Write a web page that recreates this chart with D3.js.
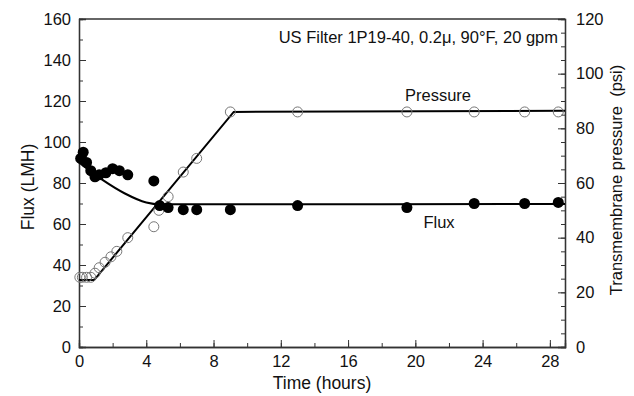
<!DOCTYPE html>
<html>
<head>
<meta charset="utf-8">
<script src="https://cdnjs.cloudflare.com/ajax/libs/d3/7.8.5/d3.min.js"></script>
<style>
  body { margin: 0; background: #fff; }
  text { font-family: "Liberation Sans", Arial, sans-serif; fill: #111; }
</style>
</head>
<body>
<script>
// flux measurements (filled dots), time in hours
var fluxTime = [0.1, 0.25, 0.45, 0.7, 0.95, 1.2, 1.6, 2.0, 2.4, 2.9, 4.45, 4.8, 5.3, 6.2, 7.0, 9.0, 13.0, 19.5, 23.5, 26.5, 28.5];
var fluxVal  = [92, 95, 90, 86, 83, 84, 85, 87, 86, 84, 81, 69, 68, 67, 67, 67, 69, 68, 70, 70, 70.5];

// pressure measurements (open circles), psi on right axis
var presTime = [0.05, 0.2, 0.45, 0.7, 0.95, 1.2, 1.55, 1.9, 2.25, 2.9, 4.45, 4.75, 5.3, 6.2, 7.0, 9.0, 13.0, 19.5, 23.5, 26.5, 28.5];
var presVal  = [25.5, 25.5, 25.5, 25.5, 27, 29, 31, 33, 35, 40, 44, 50, 55, 64, 69, 86, 86, 86, 86, 86, 86];

// trend lines
var fluxFitTime = [0, 1.4, 2.7, 4.0, 4.8, 28.9];
var fluxFitVal  = [90, 81.5, 75, 70.5, 69.6, 69.8];
var presFitTime = [0, 0.9, 9.2, 28.9];
var presFitVal  = [24.5, 24.5, 86, 86.4];

var xTicks = [0, 4, 8, 12, 16, 20, 24, 28];
var leftTicks = [0, 20, 40, 60, 80, 100, 120, 140, 160];
var rightTicks = [0, 20, 40, 60, 80, 100, 120];

var W = 634, H = 396;
var margin = {top: 19, right: 69, bottom: 49, left: 79},
    w = W - margin.left - margin.right,
    h = H - margin.top - margin.bottom;

var svg = d3.select('body').append('svg')
    .attr('width', W)
    .attr('height', H);

var g = svg.append('g')
    .attr('transform', 'translate(' + margin.left + ',' + margin.top + ')');

var xScale = d3.scaleLinear().domain([0, 28.9]).range([0, w]);
var yL = d3.scaleLinear().domain([0, 160]).range([h, 0]);
var yR = d3.scaleLinear().domain([0, 120]).range([h, 0]);

var axisColor = '#333';

// minor ticks first, then major ticks with labels
g.append('g')
  .attr('transform', 'translate(0,' + h + ')')
  .call(d3.axisBottom(xScale).tickValues(d3.range(0, 29, 2)).tickSize(-4).tickFormat(''));
g.append('g')
  .attr('class', 'xaxis')
  .attr('transform', 'translate(0,' + h + ')')
  .call(d3.axisBottom(xScale).tickValues(xTicks).tickSize(-7).tickPadding(8));

g.append('g')
  .call(d3.axisLeft(yL).tickValues(d3.range(0, 161, 10)).tickSize(-4).tickFormat(''));
g.append('g')
  .attr('class', 'laxis')
  .call(d3.axisLeft(yL).tickValues(leftTicks).tickSize(-7).tickPadding(8));

g.append('g')
  .attr('transform', 'translate(' + w + ',0)')
  .call(d3.axisRight(yR).tickValues(d3.range(0, 121, 5)).tickSize(-4).tickFormat(''));
g.append('g')
  .attr('class', 'raxis')
  .attr('transform', 'translate(' + w + ',0)')
  .call(d3.axisRight(yR).tickValues(rightTicks).tickSize(-7).tickPadding(11));

g.selectAll('.domain').attr('stroke', axisColor).attr('stroke-width', 1.3);
g.selectAll('.tick line').attr('stroke', axisColor);
g.selectAll('.tick text')
  .attr('font-size', '16.5px')
  .attr('font-family', '"Liberation Sans", Arial, sans-serif')
  .attr('fill', '#111');

// top frame line
g.append('line')
  .attr('x1', 0).attr('x2', w)
  .attr('y1', 0).attr('y2', 0)
  .attr('stroke', axisColor)
  .attr('stroke-width', 1.3);

// fit lines
var fluxLine = d3.line()
  .x(function (d) { return xScale(d[0]); })
  .y(function (d) { return yL(d[1]); })
  .curve(d3.curveMonotoneX);

g.append('path')
  .datum(d3.zip(fluxFitTime, fluxFitVal))
  .attr('d', fluxLine)
  .attr('fill', 'none')
  .attr('stroke', '#000')
  .attr('stroke-width', 2);

var presLine = d3.line()
  .x(function (d) { return xScale(d[0]); })
  .y(function (d) { return yR(d[1]); });

g.append('path')
  .datum(d3.zip(presFitTime, presFitVal))
  .attr('d', presLine)
  .attr('fill', 'none')
  .attr('stroke', '#000')
  .attr('stroke-width', 2);

// pressure points (open)
g.selectAll('.pres')
  .data(d3.zip(presTime, presVal))
  .enter()
  .append('circle')
  .attr('class', 'pres')
  .attr('cx', function (d) { return xScale(d[0]); })
  .attr('cy', function (d) { return yR(d[1]); })
  .attr('r', 5)
  .attr('fill', 'none')
  .attr('stroke', '#777')
  .attr('stroke-width', 1);

// flux points (filled)
g.selectAll('.flux')
  .data(d3.zip(fluxTime, fluxVal))
  .enter()
  .append('circle')
  .attr('class', 'flux')
  .attr('cx', function (d) { return xScale(d[0]); })
  .attr('cy', function (d) { return yL(d[1]); })
  .attr('r', 5.5)
  .attr('fill', '#000');

// labels
svg.append('text')
  .attr('x', 558).attr('y', 43)
  .attr('text-anchor', 'end')
  .attr('font-size', '16.5px')
  .text('US Filter 1P19-40, 0.2\u03bc, 90\u00b0F, 20 gpm');

svg.append('text')
  .attr('x', 438).attr('y', 101)
  .attr('text-anchor', 'middle')
  .attr('font-size', '16.5px')
  .text('Pressure');

svg.append('text')
  .attr('x', 439).attr('y', 228)
  .attr('text-anchor', 'middle')
  .attr('font-size', '16.5px')
  .text('Flux');

svg.append('text')
  .attr('x', 322).attr('y', 389)
  .attr('text-anchor', 'middle')
  .attr('font-size', '17.5px')
  .text('Time (hours)');

svg.append('text')
  .attr('transform', 'translate(34,187) rotate(-90)')
  .attr('text-anchor', 'middle')
  .attr('font-size', '17.5px')
  .text('Flux (LMH)');

svg.append('text')
  .attr('transform', 'translate(622,180) rotate(-90)')
  .attr('text-anchor', 'middle')
  .attr('font-size', '16.5px')
  .style('white-space', 'pre')
  .text('Transmembrane pressure  (psi)');
</script>
</body>
</html>
